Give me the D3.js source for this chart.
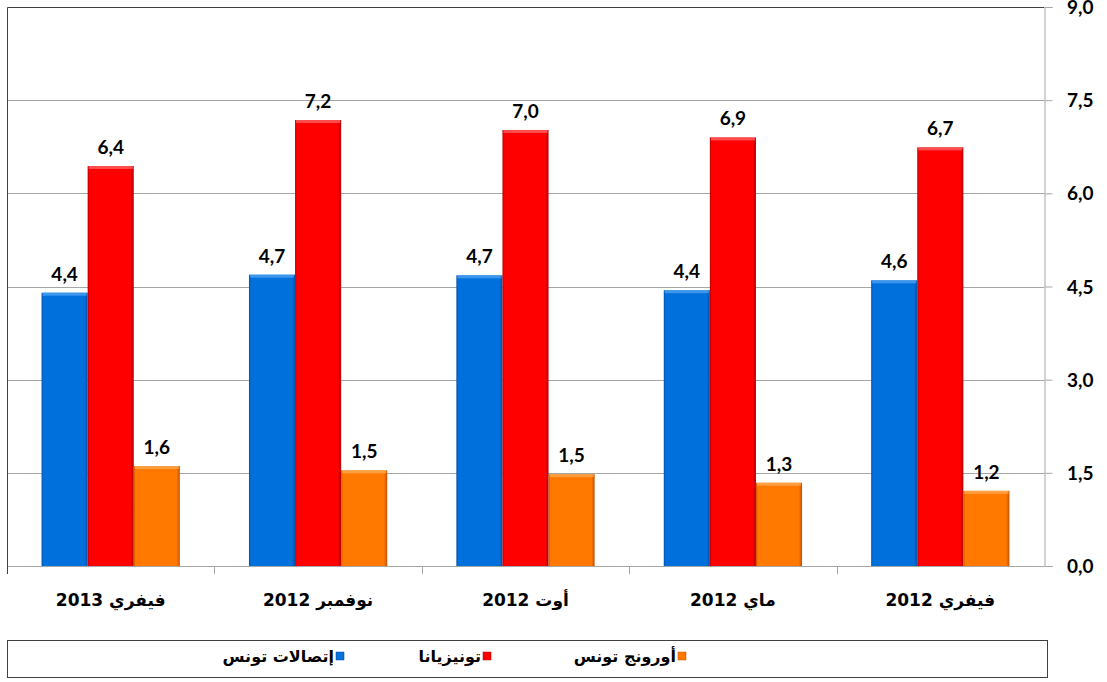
<!DOCTYPE html>
<html>
<head>
<meta charset="utf-8">
<script src="https://cdn.jsdelivr.net/npm/d3@7"></script>
<style>
  body { margin: 0; background: #fff; }
  svg { display: block; }
</style>
</head>
<body>
<div id="chart"></div>
<script>
// categories, left to right as drawn
var categories = ["فيفري 2013", "نوفمبر 2012", "أوت 2012", "ماي 2012", "فيفري 2012"];
var seriesNames = ["إتصالات تونس", "تونيزيانا", "أورونج تونس"];
var seriesColors = ["#0070dc", "#ff0000", "#ff7800"];
var seriesDark = ["#0050a8", "#b00000", "#c05000"];
var seriesLight = ["#4aa0f0", "#ff6060", "#ffa850"];

var ettValues = [4.40, 4.69, 4.68, 4.44, 4.60];
var tunisianaValues = [6.44, 7.18, 7.02, 6.90, 6.74];
var orangeValues = [1.61, 1.54, 1.48, 1.34, 1.21];
var yTicks = [0, 1.5, 3, 4.5, 6, 7.5, 9];

var allSeries = [ettValues, tunisianaValues, orangeValues];

var W = 1107, H = 682;
var plot = { left: 7, right: 1044, top: 7, bottom: 566 };
var numFont = "Lato, 'Open Sans', sans-serif";
var arFont = "'DejaVu Sans', sans-serif";
var fmt = function(d) { return d3.format(".1f")(d).replace(".", ","); };

var svg = d3.select("#chart").append("svg")
  .attr("width", W)
  .attr("height", H);

var defs = svg.append("defs");
seriesColors.forEach(function(c, i) {
  var g = defs.append("linearGradient").attr("id", "grad" + i)
    .attr("x1", "0").attr("x2", "1").attr("y1", "0").attr("y2", "0");
  g.append("stop").attr("offset", "0").attr("stop-color", seriesDark[i]);
  g.append("stop").attr("offset", "0.04").attr("stop-color", c);
  g.append("stop").attr("offset", "0.93").attr("stop-color", c);
  g.append("stop").attr("offset", "1").attr("stop-color", seriesDark[i]);
});

var x0 = d3.scaleBand()
  .domain(categories)
  .range([plot.left, plot.right])
  .paddingInner(0)
  .paddingOuter(0);

var x1 = d3.scaleBand()
  .domain(d3.range(seriesNames.length))
  .range([0, x0.bandwidth()])
  .paddingOuter(0.75)
  .paddingInner(0);

var y = d3.scaleLinear()
  .domain([0, 9])
  .range([plot.bottom, plot.top]);

// gridlines
svg.append("g")
  .selectAll("line")
  .data(yTicks.slice(1, -1))
  .enter().append("line")
  .attr("x1", plot.left)
  .attr("x2", plot.right)
  .attr("y1", function(d) { return Math.round(y(d)) + 0.5; })
  .attr("y2", function(d) { return Math.round(y(d)) + 0.5; })
  .attr("stroke", "#a6a6a6");

// right axis: line and ticks from d3, labels drawn below
var yAxis = d3.axisRight(y)
  .tickValues(yTicks)
  .tickSize(8)
  .tickFormat("");

var ya = svg.append("g")
  .attr("transform", "translate(" + (plot.right + 0.5) + ",0)")
  .call(yAxis);
ya.select(".domain").attr("stroke", "#a6a6a6");
ya.selectAll(".tick line").attr("stroke", "#a6a6a6");

svg.append("g")
  .selectAll("text")
  .data(yTicks)
  .enter().append("text")
  .attr("x", plot.right + 23)
  .attr("y", function(d) { return y(d) + 7; })
  .style("font-family", numFont)
  .style("font-size", "19px")
  .style("font-weight", "bold")
  .text(fmt);

// bottom axis (ticks at category boundaries)
svg.append("line")
  .attr("x1", plot.left).attr("x2", plot.right)
  .attr("y1", plot.bottom + 0.5).attr("y2", plot.bottom + 0.5)
  .attr("stroke", "#a6a6a6");

svg.append("g")
  .selectAll("line")
  .data(categories)
  .enter().append("line")
  .attr("x1", function(d) { return Math.round(x0(d)) + 0.5; })
  .attr("x2", function(d) { return Math.round(x0(d)) + 0.5; })
  .attr("y1", plot.bottom)
  .attr("y2", plot.bottom + 8)
  .attr("stroke", "#a6a6a6");

svg.append("g")
  .selectAll("text")
  .data(categories)
  .enter().append("text")
  .attr("x", function(d) { return x0(d) + x0.bandwidth() / 2; })
  .attr("y", 606)
  .attr("text-anchor", "middle")
  .style("font-family", arFont)
  .style("font-size", "17px")
  .style("font-weight", "bold")
  .text(function(d) { return d; });

// left and top border
svg.append("path")
  .attr("d", "M" + (plot.left + 0.5) + "," + (plot.bottom + 8) + "V" + (plot.top + 0.5) + "H" + plot.right)
  .attr("fill", "none")
  .attr("stroke", "#404040");

// bars
var groups = svg.append("g")
  .selectAll("g")
  .data(categories)
  .enter().append("g")
  .attr("transform", function(d) { return "translate(" + x0(d) + ",0)"; });

var bars = groups.selectAll("g.bar")
  .data(function(d, ci) {
    return allSeries.map(function(vals, si) { return { s: si, v: vals[ci] }; });
  })
  .enter().append("g")
  .attr("class", "bar");

bars.append("rect")
  .attr("x", function(d) { return x1(d.s); })
  .attr("y", function(d) { return y(d.v); })
  .attr("width", x1.bandwidth())
  .attr("height", function(d) { return y(0) - y(d.v); })
  .attr("fill", function(d) { return "url(#grad" + d.s + ")"; });

// top bevel highlight
bars.append("rect")
  .attr("x", function(d) { return x1(d.s) + 1; })
  .attr("y", function(d) { return y(d.v); })
  .attr("width", x1.bandwidth() - 2)
  .attr("height", 3)
  .attr("fill", function(d) { return seriesLight[d.s]; })
  .attr("opacity", 0.8);

// value labels
bars.append("text")
  .attr("x", function(d) { return x1(d.s) + x1.bandwidth() / 2; })
  .attr("y", function(d) { return y(d.v) - 12; })
  .attr("text-anchor", "middle")
  .style("font-family", numFont)
  .style("font-size", "19px")
  .style("font-weight", "bold")
  .text(function(d) { return fmt(d.v); });

// legend
svg.append("rect")
  .attr("x", 7.5).attr("y", 640.5)
  .attr("width", 1040).attr("height", 37)
  .attr("fill", "#fff")
  .attr("stroke", "#404040");

var legendX = [336, 483, 678];
var legend = svg.append("g")
  .selectAll("g")
  .data(seriesNames)
  .enter().append("g")
  .attr("transform", function(d, i) { return "translate(" + legendX[i] + ",652)"; });

legend.append("rect")
  .attr("width", 8).attr("height", 8)
  .attr("fill", function(d, i) { return "url(#grad" + i + ")"; })
  .attr("stroke", function(d, i) { return seriesDark[i]; })
  .attr("stroke-width", 0.5);

legend.append("text")
  .attr("x", -2)
  .attr("y", 10)
  .attr("text-anchor", "end")
  .style("font-family", arFont)
  .style("font-size", "16px")
  .style("font-weight", "bold")
  .text(function(d) { return d; });
</script>
</body>
</html>
